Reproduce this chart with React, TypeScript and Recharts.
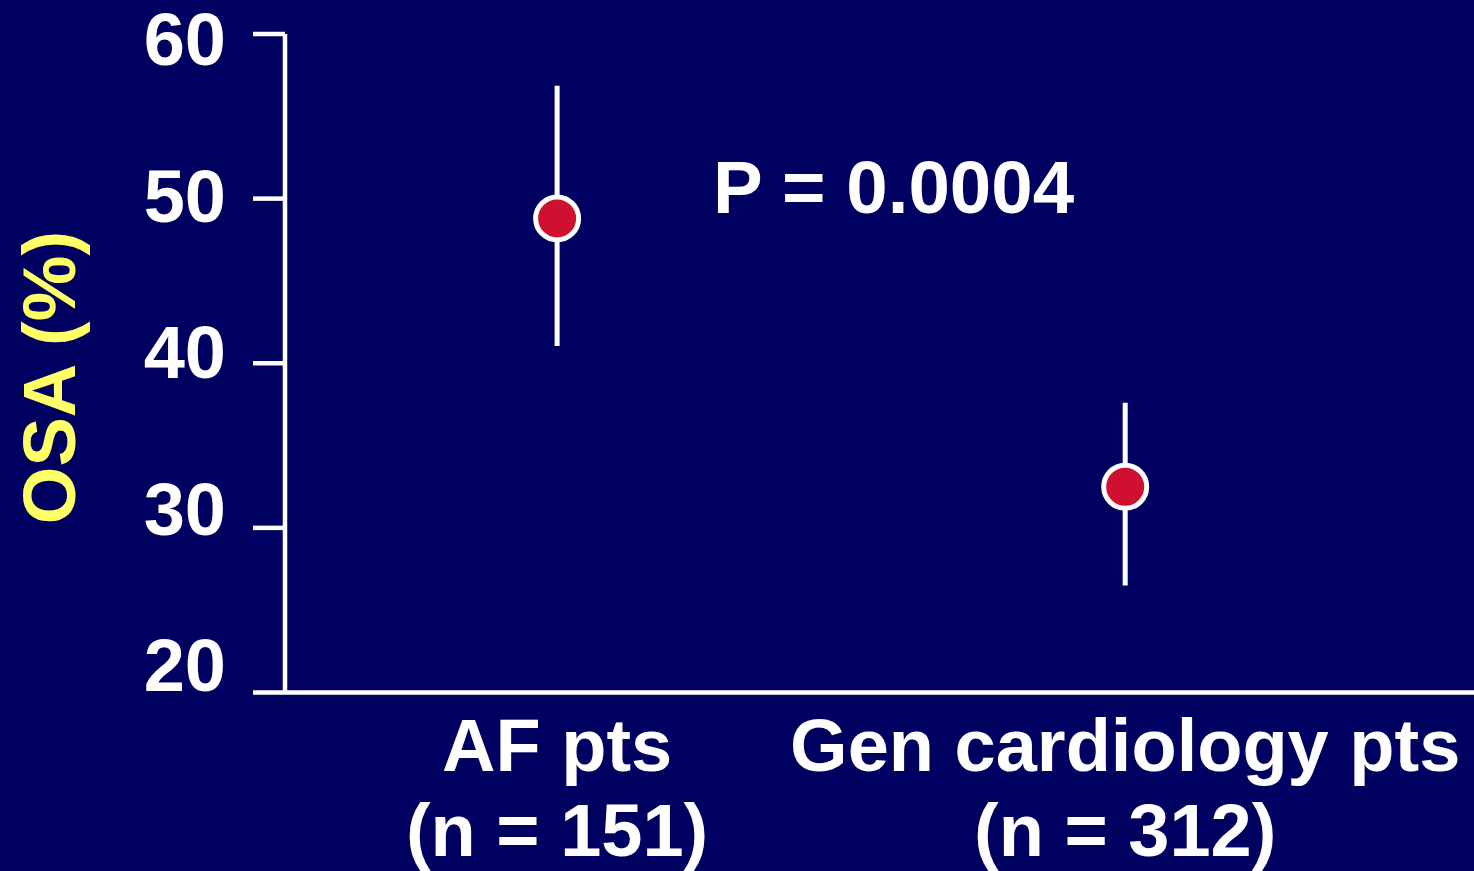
import React from 'react';
import { ComposedChart, Scatter, ErrorBar, XAxis, YAxis } from 'recharts';

const categories = ['AF pts', 'Gen cardiology pts'];
const sampleSizes = ['(n = 151)', '(n = 312)'];
const means = [48.8, 32.5];
const lowerCI = [41.05, 26.5];
const upperCI = [56.85, 37.6];
const yTicks = [20, 30, 40, 50, 60];
const pValueText = 'P = 0.0004';
const yAxisTitle = 'OSA (%)';

const data = categories.map((c, i) => ({
  pos: i + 0.5,
  mean: means[i],
  err: [means[i] - lowerCI[i], upperCI[i] - means[i]],
  label: c,
  n: sampleSizes[i],
}));

const FONT = '"Liberation Sans", Arial, sans-serif';
const BG = '#000060';
const WHITE = '#ffffff';
const YELLOW = '#FFFF66';
const RED = '#D01030';
const PLOT_TOP = 34;

const XTick = (props: any) => {
  const { x, y, index } = props;
  const d = data[index];
  return (
    <text x={x} y={y} textAnchor="middle" fill={WHITE} fontFamily={FONT} fontWeight="bold" fontSize={74}>
      <tspan x={x} dy={78.5}>{d ? d.label : ''}</tspan>
      <tspan x={x} dy={85}>{d ? d.n : ''}</tspan>
    </text>
  );
};

const YTick = (props: any) => {
  const { x, y, payload } = props;
  const baseline = 65 + (y - PLOT_TOP) * 0.951;
  return (
    <text x={x} y={baseline} textAnchor="end" fill={WHITE} fontFamily={FONT} fontWeight="bold" fontSize={74}>
      {payload.value}
    </text>
  );
};

const Dot = (props: any) => {
  const { cx, cy } = props;
  return <circle cx={cx} cy={cy} r={21.5} fill={RED} stroke={WHITE} strokeWidth={5} />;
};

export default function App() {
  return (
    <div style={{ position: 'absolute', left: 0, top: 0, width: 1474, height: 871, background: BG }}>
      <ComposedChart
        width={1474}
        height={871}
        data={data}
        margin={{ top: PLOT_TOP, right: 0, bottom: 0, left: 0 }}
      >
        <XAxis
          dataKey="pos"
          type="number"
          domain={[0.021, 2.114]}
          ticks={[0.5, 1.5]}
          allowDataOverflow
          tickLine={false}
          tickSize={0}
          tickMargin={0}
          axisLine={{ stroke: WHITE, strokeWidth: 4.5 }}
          height={178.5}
          tick={XTick}
          interval={0}
        />
        <YAxis
          type="number"
          domain={[20, 60]}
          ticks={yTicks}
          allowDataOverflow
          width={285}
          tickSize={32}
          tickMargin={27}
          tickLine={{ stroke: WHITE, strokeWidth: 4.5 }}
          axisLine={{ stroke: WHITE, strokeWidth: 4.5 }}
          tick={YTick}
          interval={0}
        />
        <Scatter dataKey="mean" shape={Dot} isAnimationActive={false}>
          <ErrorBar dataKey="err" direction="y" width={0} stroke={WHITE} strokeWidth={5} />
        </Scatter>
        <text
          x={75}
          y={377.5}
          transform="rotate(-90, 75, 377.5)"
          textAnchor="middle"
          fill={YELLOW}
          fontFamily={FONT}
          fontWeight="bold"
          fontSize={74}
        >
          {yAxisTitle}
        </text>
        <text x={713} y={213} fill={WHITE} fontFamily={FONT} fontWeight="bold" fontSize={74.5}>
          {pValueText}
        </text>
      </ComposedChart>
    </div>
  );
}
